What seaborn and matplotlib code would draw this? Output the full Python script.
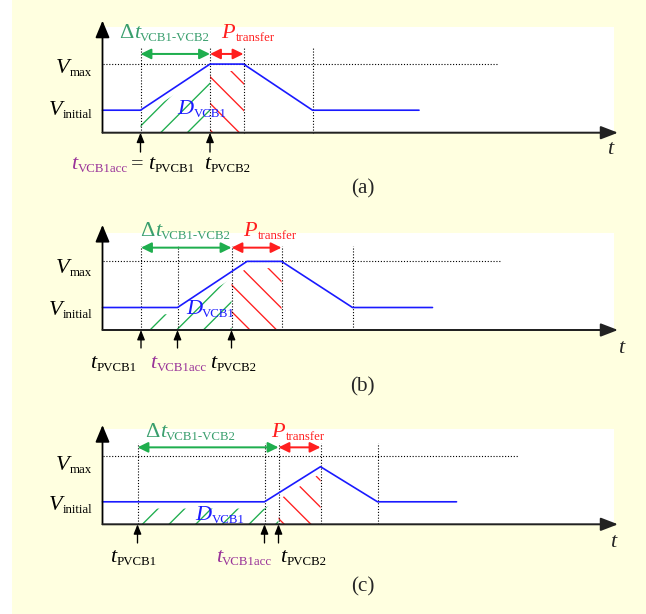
import numpy as np
import matplotlib
matplotlib.use('Agg')
import matplotlib.pyplot as plt
from matplotlib.patches import Rectangle
from matplotlib.transforms import ScaledTranslation
import seaborn as sns

# time axis: 0 at the vertical axis; voltage in units where V_initial = 1
V_INIT = 1.0
V_MAX = 3.05

# blue profiles of the three cases
t_a = [0.0, 3.8, 10.75, 14.1, 21.0, 31.65]
v_a = [V_INIT, V_INIT, V_MAX, V_MAX, V_INIT, V_INIT]
t_b = [0.0, 7.5, 14.45, 17.9, 25.0, 33.0]
v_b = [V_INIT, V_INIT, V_MAX, V_MAX, V_INIT, V_INIT]
t_c = [0.0, 16.2, 21.8, 27.5, 35.4]
v_c = [V_INIT, V_INIT, 2.56, V_INIT, V_INIT]

# event instants per case (a, b, c)
pvcb1 = [3.8, 3.85, 3.5]
vcb1acc = [3.8, 7.5, 16.2]
pvcb2 = [10.75, 12.9, 17.6]
transfer_end = [14.1, 17.9, 21.8]
ramp_down_end = [21.0, 25.0, 27.5]
vmax_line_end = [39.55, 39.8, 41.6]
panel_labels = ['(a)', '(b)', '(c)']

W, H, DPI = 646, 614, 160
X0, XS, YS = 102.5, 10.0, 22.5  # pixel origin / scales
T_AXIS_END = 51.55
WHITE_RIGHT = 51.15

GREEN_TXT = '#3a9f6e'
GREEN = '#1fae4e'
RED = '#ff1f1f'
BLUE = '#1a1aff'
PURPLE = '#993399'
BG = '#ffffe0'

sns.set_style('white')
plt.rcParams['font.family'] = ['Liberation Serif', 'DejaVu Serif']
plt.rcParams['hatch.linewidth'] = 0.6

FS = 10
SUB_FS = 5.8

fig = plt.figure(figsize=(W / DPI, H / DPI), dpi=DPI, facecolor=BG)
renderer = fig.canvas.get_renderer()


def sublabel(ax, x, y, main, sub, color='black', ha='center', prefix=''):
    """(upright prefix +) italic symbol + roman subscript, baseline at y"""
    parts = []
    if prefix:
        parts.append(ax.text(x, y, prefix, fontsize=FS, color=color, ha='left',
                             va='baseline', zorder=6))
    parts.append(ax.text(x, y, main, fontsize=FS, color=color, style='italic',
                         ha='left', va='baseline', zorder=6))
    sub_t = ax.text(x, y, sub, fontsize=SUB_FS, color=color, ha='left', va='baseline', zorder=6)
    widths = [p.get_window_extent(renderer).width for p in parts]
    w_sub = sub_t.get_window_extent(renderer).width
    gap = 0.3
    total = sum(widths) + gap + w_sub
    shift = {'left': 0.0, 'center': -total / 2, 'right': -total}[ha]
    pos = shift
    for p, w in zip(parts, widths):
        p.set_transform(ax.transData + ScaledTranslation(pos / DPI, 0, fig.dpi_scale_trans))
        pos += w
    sub_t.set_transform(ax.transData + ScaledTranslation((pos + gap) / DPI, -3.0 / DPI,
                                                         fig.dpi_scale_trans))


layout = [
    dict(band=(0, 200), axis_px=132.7, white_top=4.7, ytip=4.98, arrow_y=3.5, guide_top=3.8,
         dt=(6.2, 4.2), pt=(14.55, 4.2), vmax_y=2.64, vinit_y=0.79, d=(9.95, 0.82),
         lab_y=-1.61, tlab=(50.75, -0.95), cap_y=-2.72, up_from=-0.86,
         labs=None),
    dict(band=(200, 410), axis_px=330.0, white_top=4.31, ytip=4.67, arrow_y=3.66, guide_top=3.75,
         dt=(8.3, 4.18), pt=(16.75, 4.18), vmax_y=2.55, vinit_y=0.67, d=(10.8, 0.71),
         lab_y=-1.7, tlab=(51.85, -1.04), cap_y=-2.74, up_from=-0.8,
         labs=(1.05, 7.6, 13.05)),
    dict(band=(410, 614), axis_px=524.3, white_top=4.24, ytip=4.41, arrow_y=3.42, guide_top=3.6,
         dt=(8.8, 3.87), pt=(19.55, 3.87), vmax_y=2.41, vinit_y=0.64, d=(11.75, 0.19),
         lab_y=-1.66, tlab=(51.05, -1.0), cap_y=-3.0, up_from=-0.83,
         labs=(3.1, 14.15, 20.05)),
]

profiles = [(t_a, v_a), (t_b, v_b), (t_c, v_c)]

fig.patches.append(Rectangle((0, 0), 12 / W, 1, transform=fig.transFigure,
                             facecolor='white', edgecolor='none', zorder=-5))

for i, (lay, (t, v)) in enumerate(zip(layout, profiles)):
    top_px, bot_px = lay['band']
    ax = fig.add_axes([0, 1 - bot_px / H, 1, (bot_px - top_px) / H])
    ax.set_xlim(-X0 / XS, (W - X0) / XS)
    ax.set_ylim((lay['axis_px'] - bot_px) / YS, (lay['axis_px'] - top_px) / YS)
    ax.axis('off')

    # white plotting area
    ax.add_patch(Rectangle((0, 0), WHITE_RIGHT, lay['white_top'], facecolor='white',
                           edgecolor='none', zorder=0))

    # hatched regions under the profile
    tt, vv = np.array(t), np.array(v)
    xg = np.unique(np.concatenate([[pvcb1[i], pvcb2[i]], tt[(tt > pvcb1[i]) & (tt < pvcb2[i])]]))
    ax.fill_between(xg, 0, np.interp(xg, tt, vv) - 0.3, facecolor='none', edgecolor=GREEN,
                    hatch='//', linewidth=0, zorder=1)
    xr = np.unique(np.concatenate([[pvcb2[i], transfer_end[i]],
                                   tt[(tt > pvcb2[i]) & (tt < transfer_end[i])]]))
    ax.fill_between(xr, 0, np.interp(xr, tt, vv) - 0.3, facecolor='none', edgecolor=RED,
                    hatch='\\\\', linewidth=0, zorder=1)

    # guides
    guides = sorted(set([pvcb1[i], vcb1acc[i], pvcb2[i], transfer_end[i], ramp_down_end[i]]))
    ax.vlines(guides, 0, lay['guide_top'], colors='black', linestyles=(0, (1, 1.6)),
              linewidth=0.5, zorder=2)
    ax.hlines(V_MAX, 0, vmax_line_end[i], colors='black', linestyles=(0, (1, 1.6)),
              linewidth=0.5, zorder=2)

    sns.lineplot(x=t, y=v, ax=ax, color=BLUE, linewidth=0.75, sort=False,
                 estimator=None, zorder=4)

    # axes with arrow heads
    ax.annotate('', xy=(0, lay['ytip']), xytext=(0, 0),
                arrowprops=dict(arrowstyle='-|>,head_length=0.65,head_width=0.27',
                                mutation_scale=10, color='black', lw=0.8,
                                shrinkA=0, shrinkB=0), zorder=5)
    ax.annotate('', xy=(T_AXIS_END, 0), xytext=(0, 0),
                arrowprops=dict(arrowstyle='-|>,head_length=0.65,head_width=0.25',
                                mutation_scale=10, color='#222222', lw=0.9,
                                shrinkA=0, shrinkB=0), zorder=5)

    # interval arrows
    ay = lay['arrow_y']
    ax.annotate('', xy=(pvcb2[i], ay), xytext=(pvcb1[i], ay),
                arrowprops=dict(arrowstyle='<|-|>,head_length=0.65,head_width=0.32',
                                mutation_scale=6, color=GREEN, lw=0.9,
                                shrinkA=0, shrinkB=0), zorder=5)
    ax.annotate('', xy=(transfer_end[i], ay), xytext=(pvcb2[i], ay),
                arrowprops=dict(arrowstyle='<|-|>,head_length=0.65,head_width=0.32',
                                mutation_scale=6, color=RED, lw=0.9,
                                shrinkA=0, shrinkB=0), zorder=5)

    # instant markers
    for x in sorted(set([pvcb1[i], vcb1acc[i], pvcb2[i]])):
        ax.annotate('', xy=(x, 0), xytext=(x, lay['up_from']),
                    arrowprops=dict(arrowstyle='-|>,head_length=0.6,head_width=0.24',
                                    mutation_scale=6, color='black', lw=0.6,
                                    shrinkA=0, shrinkB=0), zorder=5)

    # texts
    sublabel(ax, *lay['dt'], 't', 'VCB1-VCB2', color=GREEN_TXT, prefix='\u0394')
    sublabel(ax, *lay['pt'], 'P', 'transfer', color=RED)
    sublabel(ax, -1.05, lay['vmax_y'], 'V', 'max', ha='right')
    sublabel(ax, -1.05, lay['vinit_y'], 'V', 'initial', ha='right')
    sublabel(ax, *lay['d'], 'D', 'VCB1', color=BLUE)
    ax.text(*lay['tlab'], 't', fontsize=FS, style='italic', ha='center', va='baseline')
    ax.text(26.0, lay['cap_y'], panel_labels[i], fontsize=FS - 0.5, ha='center', va='baseline')

    ly = lay['lab_y']
    if lay['labs'] is None:
        sublabel(ax, 2.55, ly, 't', 'VCB1acc', color=PURPLE, ha='right')
        ax.text(3.48, ly, '=', fontsize=FS, ha='center', va='baseline')
        sublabel(ax, 4.55, ly, 't', 'PVCB1', ha='left')
        sublabel(ax, 12.5, ly, 't', 'PVCB2')
    else:
        x1, x2, x3 = lay['labs']
        sublabel(ax, x1, ly, 't', 'PVCB1')
        sublabel(ax, x2, ly, 't', 'VCB1acc', color=PURPLE)
        sublabel(ax, x3, ly, 't', 'PVCB2')

fig.savefig('out.png', dpi=DPI, facecolor=BG)
